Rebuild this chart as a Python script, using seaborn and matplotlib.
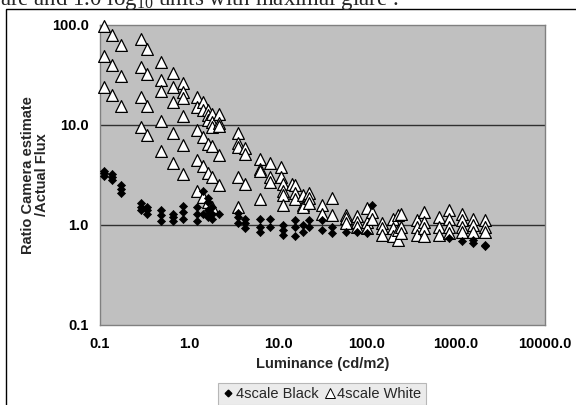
import matplotlib
matplotlib.use("Agg")
import matplotlib.pyplot as plt
import seaborn as sns
import pandas as pd
from matplotlib.lines import Line2D
from matplotlib.patches import Rectangle
from matplotlib.ticker import FixedLocator, FixedFormatter, NullLocator

# ---------------- data ----------------
white_lum = [0.112, 0.135, 0.172, 0.286, 0.34, 0.49, 0.66, 0.86, 1.22, 1.43,
             1.65, 1.80, 2.17, 3.58, 4.26, 6.2, 8.1, 10.7, 11.3, 14.3,
             15.5, 19.2, 22.5, 31.5, 40.7, 58, 78, 99, 113, 146,
             194, 225, 239, 361, 440, 649, 834, 1177, 1565, 2117]
white_ratio = [[97, 49, 24], [79, 40, 20], [63, 31, 15.5], [72, 38, 19, 9.5],
               [58, 32, 15.6, 7.9], [43, 28, 22, 11, 5.5], [33, 24, 17, 8.3, 4.2],
               [26.5, 21.5, 18.5, 12.3, 6.3, 3.2], [19, 15, 8.9, 4.5, 2.2],
               [17, 14, 7.6, 3.9, 1.9], [14, 12.6, 11.2, 6.5, 3.3, 1.7],
               [12.9, 10.8, 9.5, 6.1, 3.0, 1.5], [12.9, 10.5, 9.8, 5.0, 2.5],
               [8.4, 6.6, 6.0, 3.0, 1.5], [5.9, 5.1, 2.6], [4.6, 3.6, 3.5, 1.8],
               [4.2, 3.0, 2.7], [3.8, 3.0], [2.6, 2.2, 2.0, 1.6], [2.6],
               [2.5, 2.1, 1.8], [2.0, 1.6, 1.5], [2.1, 1.85, 1.65], [1.6, 1.3],
               [1.85, 1.26], [1.26, 1.17, 1.05], [1.23, 1.08, 0.96],
               [1.47, 1.08, 0.93], [1.36, 1.16], [1.05, 0.93, 0.8],
               [1.16, 0.93, 0.77], [1.26, 0.89, 0.71], [1.3, 0.96, 0.83],
               [1.12, 0.96, 0.8], [1.36, 1.08, 0.93, 0.77], [1.21, 0.96, 0.8],
               [1.41, 1.16, 0.96, 0.83], [1.3, 1.12, 0.96, 0.86],
               [1.16, 1.0, 0.86], [1.12, 0.96, 0.86]]

black_lum = [0.112, 0.135, 0.172, 0.286, 0.34, 0.49, 0.66, 0.86, 1.22, 1.43,
             1.65, 1.80, 2.17, 3.58, 4.26, 6.2, 8.1, 11.3, 15.5, 19.2,
             22.5, 31.5, 40.7, 58, 78, 99, 113, 834, 1177, 1565, 2117]
black_ratio = [[3.5, 3.3, 3.1], [3.2, 3.0, 2.8], [2.5, 2.3, 2.1], [1.65, 1.5, 1.4],
               [1.5, 1.4, 1.3], [1.4, 1.25, 1.1], [1.3, 1.2, 1.1], [1.55, 1.35, 1.15],
               [1.5, 1.3, 1.1], [2.2, 1.3], [1.85, 1.7, 1.4, 1.2], [1.5, 1.3, 1.15],
               [1.3], [1.33, 1.2, 1.05], [1.16, 1.05, 0.93], [1.16, 0.96, 0.86],
               [1.16, 0.95], [1.0, 0.9, 0.8], [1.12, 0.96, 0.77], [1.0, 0.85],
               [1.12, 0.96], [1.12, 0.89], [0.96, 0.83], [0.86], [0.86], [0.83],
               [1.6], [0.74], [0.69], [0.71, 0.66], [0.63, 0.61]]

x_ticks = [0.1, 1, 10, 100, 1000, 10000]
x_labels = ["0.1", "1.0", "10.0", "100.0", "1000.0", "10000.0"]
y_ticks = [0.1, 1, 10, 100]
y_labels = ["0.1", "1.0", "10.0", "100.0"]
series_names = ["4scale Black", "4scale White"]


def expand(lums, ratios):
    rows = [(l, r) for l, rs in zip(lums, ratios) for r in rs]
    return pd.DataFrame(rows, columns=["lum", "ratio"])


df_white = expand(white_lum, white_ratio)
df_black = expand(black_lum, black_ratio)

# ---------------- style ----------------
sns.set_style("white")
plt.rcParams["font.family"] = ["Liberation Sans", "DejaVu Sans"]
plt.rcParams["mathtext.fontset"] = "custom"
plt.rcParams["mathtext.rm"] = "Liberation Serif"

W, H = 576, 405
fig = plt.figure(figsize=(W / 100, H / 100), dpi=100)
ax = fig.add_axes([100 / W, 1 - 325 / H, 445 / W, 300 / H])
ax.set_facecolor("#c0c0c0")

ax.axhline(1, color="#303030", lw=1.0, zorder=1)
ax.axhline(10, color="#303030", lw=1.0, zorder=1)

sns.scatterplot(data=df_white, x="lum", y="ratio", marker="^", s=72,
                color="white", edgecolor="black", linewidth=0.9,
                ax=ax, zorder=3, legend=False, clip_on=False)
sns.scatterplot(data=df_black, x="lum", y="ratio", marker="D", s=17,
                color="black", edgecolor="black", linewidth=0.5,
                ax=ax, zorder=4, legend=False, clip_on=False)

ax.set_xscale("log")
ax.set_yscale("log")
ax.set_xlim(0.1, 10000)
ax.set_ylim(0.1, 100)
ax.xaxis.set_major_locator(FixedLocator(x_ticks))
ax.xaxis.set_major_formatter(FixedFormatter(x_labels))
ax.yaxis.set_major_locator(FixedLocator(y_ticks))
ax.yaxis.set_major_formatter(FixedFormatter(y_labels))
ax.xaxis.set_minor_locator(NullLocator())
ax.yaxis.set_minor_locator(NullLocator())

for sp in ax.spines.values():
    sp.set_color("#808080")
    sp.set_linewidth(1.0)

ax.tick_params(axis="both", which="major", length=4, width=0.8,
               color="#808080", labelsize=10.5, labelcolor="black")
ax.tick_params(axis="x", pad=5)
ax.tick_params(axis="y", pad=4)
for lab in ax.get_xticklabels() + ax.get_yticklabels():
    lab.set_fontweight("bold")

ax.set_xlabel("Luminance (cd/m2)", fontsize=10.5, fontweight="bold")
ax.set_ylabel("Ratio Camera estimate\n/Actual Flux", fontsize=10.5,
              fontweight="bold", multialignment="center", linespacing=1.0)
ax.xaxis.label.set_va("center")
ax.yaxis.label.set_va("center")
ax.xaxis.set_label_coords(0.5, -(364 - 325) / 300)
ax.yaxis.set_label_coords(-(100 - 35) / 445, 0.5)

handles = [
    Line2D([], [], marker="D", ls="", color="black", ms=3.4),
    Line2D([], [], marker="^", ls="", mfc="white", mec="black", ms=6.5, mew=0.7),
]
leg = fig.legend(handles, series_names, loc="center",
                 bbox_to_anchor=(322 / W, 1 - 394 / H), ncol=2, frameon=True,
                 fancybox=False, facecolor="#e6e6e6", edgecolor="#a8a8a8",
                 fontsize=10.5, handletextpad=0.1, columnspacing=0.4,
                 handlelength=0.8, borderpad=0.3)
leg.get_frame().set_linewidth(0.8)

# outer frame of the original figure box
fig.patches.append(Rectangle((5.5 / W, -0.1), 1.2, 1 - 9 / H + 0.1,
                             transform=fig.transFigure, fill=False,
                             edgecolor="black", lw=1.0))

# cut-off line of text from the surrounding page
fig.text(0 / W, 1 - 5 / H,
         r"are and 1.0 log$_{\mathregular{10}}$ units with maximal glare .",
         family=["Liberation Serif", "DejaVu Serif"], fontsize=16.5,
         ha="left", va="baseline")

fig.savefig("out.png", dpi=100)
